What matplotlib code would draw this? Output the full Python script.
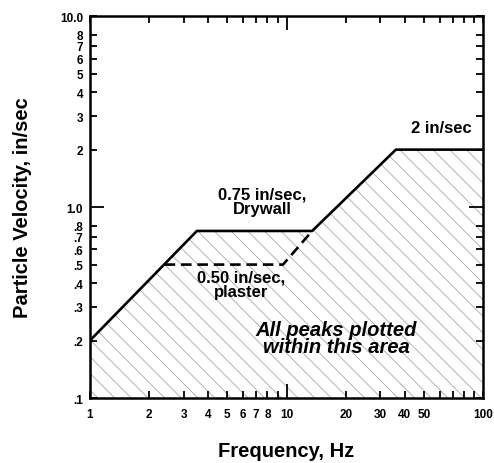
import numpy as np
import matplotlib
matplotlib.use("Agg")
import matplotlib.pyplot as plt

plt.rcParams['font.family'] = ['Liberation Sans', 'DejaVu Sans']
plt.rcParams['font.weight'] = 'bold'
plt.rcParams['hatch.color'] = '#a8a8a8'
plt.rcParams['hatch.linewidth'] = 0.6

# criteria envelope
freq_solid = [1, 3.5, 13.5, 36, 100]
vel_solid = [0.2, 0.75, 0.75, 2.0, 2.0]
freq_dash = [2.4, 9.6, 13.5]
vel_dash = [0.5, 0.5, 0.75]

xtick_vals = [1, 2, 3, 4, 5, 6, 7, 8, 9, 10, 20, 30, 40, 50, 60, 70, 80, 90, 100]
xtick_lbls = ["1", "2", "3", "4", "5", "6", "7", "8", "", "10", "20", "30", "40", "50", "", "", "", "", "100"]
ytick_vals = [0.1, 0.2, 0.3, 0.4, 0.5, 0.6, 0.7, 0.8, 1, 2, 3, 4, 5, 6, 7, 8, 10]
ytick_lbls = [".1", ".2", ".3", ".4", ".5", ".6", ".7", ".8", "1.0", "2", "3", "4", "5", "6", "7", "8", "10.0"]

fig = plt.figure(figsize=(4.94, 4.64), dpi=100)
ax = fig.add_axes([0.182, 0.140, 0.796, 0.823])
ax.set_xscale("log")
ax.set_yscale("log")
ax.set_xlim(1, 100)
ax.set_ylim(0.1, 10)

# shaded region under the envelope
ax.fill_between(freq_solid, vel_solid, 0.1, facecolor="none", edgecolor="#a8a8a8",
                hatch="\\\\", linewidth=0)

ax.plot(freq_solid, vel_solid, color="black", lw=1.9, solid_capstyle="butt")
ax.plot(freq_dash, vel_dash, color="black", lw=1.9, ls=(0, (4, 2.2)))

ax.xaxis.set_minor_locator(matplotlib.ticker.NullLocator())
ax.yaxis.set_minor_locator(matplotlib.ticker.NullLocator())
ax.set_xticks(xtick_vals)
ax.set_xticklabels(xtick_lbls)
ax.set_yticks(ytick_vals)
ax.set_yticklabels(ytick_lbls)
ax.tick_params(axis="both", which="major", direction="in", length=5, width=1.3,
               labelsize=8.5, top=True, right=True)
ax.tick_params(axis="x", pad=7)
ax.tick_params(axis="y", pad=5)
for i, v in enumerate(xtick_vals):
    if v == 10:
        t = ax.xaxis.get_major_ticks()[i]
        t.tick1line.set_markersize(10)
        t.tick2line.set_markersize(10)
for i, v in enumerate(ytick_vals):
    if v == 1:
        t = ax.yaxis.get_major_ticks()[i]
        t.tick1line.set_markersize(10)
        t.tick2line.set_markersize(10)

for s in ax.spines.values():
    s.set_linewidth(1.8)

ax.text(7.5, 1.07, "0.75 in/sec,\nDrywall", ha="center", va="center", fontsize=12,
        fontweight="bold", linespacing=1.0)
ax.text(5.9, 0.395, "0.50 in/sec,\nplaster", ha="center", va="center", fontsize=12,
        fontweight="bold", linespacing=1.0)
ax.text(61, 2.62, "2 in/sec", ha="center", va="center", fontsize=12, fontweight="bold")
ax.text(17.9, 0.206, "All peaks plotted\nwithin this area", ha="center", va="center",
        fontsize=14.5, fontweight="bold", style="italic", linespacing=0.9)

ax.set_xlabel("Frequency, Hz", fontsize=14.5, fontweight="bold", labelpad=15)
ax.set_ylabel("Particle Velocity, in/sec", fontsize=14.5, fontweight="bold", labelpad=20)

plt.savefig("out.png", dpi=100)
